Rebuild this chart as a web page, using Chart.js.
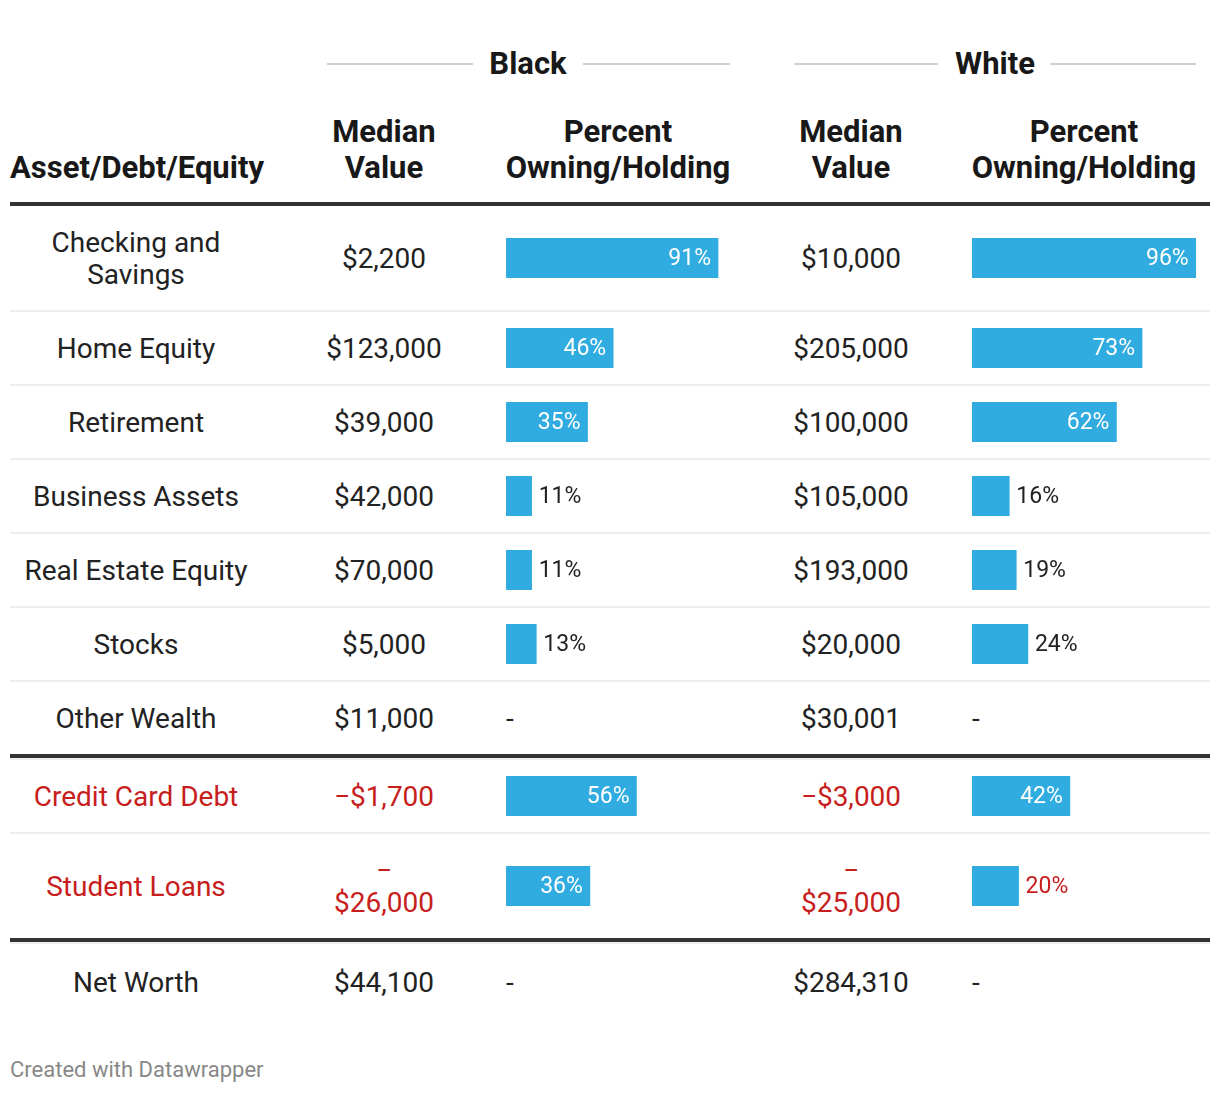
<!DOCTYPE html>
<html>
<head>
<meta charset="utf-8">
<script src="https://cdn.jsdelivr.net/npm/chart.js@4.4.1/dist/chart.umd.min.js"></script>
<style>
  body { margin: 0; background: #fff; font-family: Roboto, sans-serif; color: #222; }
  #wrap { position: relative; width: 1220px; height: 1094px; }
  .grp { position: absolute; top: 44px; height: 40px; font-weight: 700; font-size: 31px; line-height: 40px; text-align: center; color: #181818; }
  .rule { position: absolute; top: 63px; height: 2px; background: #d0d0d0; }
  .hd { position: absolute; width: 320px; font-weight: 700; font-size: 31px; line-height: 36px; text-align: center; color: #181818; }
  #table { position: absolute; left: 10px; top: 202px; width: 1200px; border-top: 4px solid #333; }
  .row { display: grid; grid-template-columns: 252px 244px 233px 224px 247px; align-items: center;
         padding: 20px 0; border-bottom: 2px solid #eee; font-size: 28px; line-height: 32px; }
  .row > div { text-align: center; position: relative; top: 1px; }
  .row > .name { padding: 0 8px; }
  .row > .pct { text-align: left; height: 32px; top: 0; }
  .row > .pct.w { padding-left: 9px; }
  .row.debt { color: #c71e1d; }
  .row.thick { border-bottom: 4px solid #333; }
  .row.top { border-top: 2px solid #eee; }
  .row.last { border-bottom: none; padding-top: 22px; }
  .dash { position: relative; top: 1px; }
  canvas { display: block; margin-top: -4px; }
  #foot { position: absolute; left: 10px; top: 1057px; font-size: 22px; color: #888; }
</style>
</head>
<body>
<div id="wrap">
  <div class="rule" style="left:327px;width:146px"></div>
  <div class="grp" style="left:428px;width:200px">Black</div>
  <div class="rule" style="left:583px;width:147px"></div>
  <div class="rule" style="left:794px;width:144px"></div>
  <div class="grp" style="left:895px;width:200px">White</div>
  <div class="rule" style="left:1050px;width:146px"></div>

  <div class="hd" style="left:10px;top:150px;text-align:left">Asset/Debt/Equity</div>
  <div class="hd" style="left:224px;top:114px">Median<br>Value</div>
  <div class="hd" style="left:458px;top:114px">Percent<br>Owning/Holding</div>
  <div class="hd" style="left:691px;top:114px">Median<br>Value</div>
  <div class="hd" style="left:924px;top:114px">Percent<br>Owning/Holding</div>

  <div id="table"></div>
  <div id="foot">Created with Datawrapper</div>
</div>
<script>
'use strict';

const categories = ['Checking and Savings', 'Home Equity', 'Retirement', 'Business Assets', 'Real Estate Equity',
  'Stocks', 'Other Wealth', 'Credit Card Debt', 'Student Loans', 'Net Worth'];
const blackMedian = [2200, 123000, 39000, 42000, 70000, 5000, 11000, -1700, -26000, 44100];
const blackPercent = [91, 46, 35, 11, 11, 13, null, 56, 36, null];
const whiteMedian = [10000, 205000, 100000, 105000, 193000, 20000, 30001, -3000, -25000, 284310];
const whitePercent = [96, 73, 62, 16, 19, 24, null, 42, 20, null];
const debtRows = ['Credit Card Debt', 'Student Loans'];

const barColor = '#31ace0';
const red = '#c71e1d';

function money(v) {
  const s = '$' + Math.abs(v).toLocaleString('en-US');
  if (v >= 0) return s;
  // long negatives wrap after the minus in the narrow column
  return Math.abs(v) >= 10000 ? '\u2212<br>' + s : '\u2212' + s;
}

// draws the percent label inside the bar (white) or just after it
const labelPlugin = {
  id: 'barLabel',
  afterDatasetsDraw(chart, args, opts) {
    const ctx = chart.ctx;
    const bar = chart.getDatasetMeta(0).data[0];
    const v = chart.data.datasets[0].data[0];
    const w = bar.x - bar.base;
    ctx.save();
    ctx.font = '23px Roboto';
    ctx.textBaseline = 'middle';
    if (w > 60) {
      ctx.fillStyle = '#fff';
      ctx.textAlign = 'right';
      ctx.fillText(v + '%', bar.x - 7, bar.y + 1);
    } else {
      ctx.fillStyle = opts.color;
      ctx.textAlign = 'left';
      ctx.fillText(v + '%', bar.x + 7, bar.y + 1);
    }
    ctx.restore();
  }
};

function barCell(cell, value, color) {
  if (value === null) {
    cell.innerHTML = '<span class="dash">-</span>';
    return;
  }
  const canvas = document.createElement('canvas');
  canvas.width = 233;
  canvas.height = 40;
  cell.appendChild(canvas);
  new Chart(canvas, {
    type: 'bar',
    data: {
      labels: [''],
      datasets: [{ data: [value], backgroundColor: barColor, barPercentage: 1, categoryPercentage: 1 }]
    },
    options: {
      indexAxis: 'y',
      responsive: false,
      animation: false,
      layout: { padding: 0 },
      scales: {
        x: { display: false, min: 0, max: 100 },
        y: { display: false }
      },
      plugins: { legend: { display: false }, tooltip: { enabled: false }, barLabel: { color: color } }
    },
    plugins: [labelPlugin]
  });
}

const table = document.getElementById('table');
for (let i = 0; i < categories.length; i++) {
  const row = document.createElement('div');
  row.className = 'row';
  const isDebt = debtRows.includes(categories[i]);
  if (isDebt) row.classList.add('debt');
  if (i === 6 || i === 8) row.classList.add('thick');
  if (i === 7 || i === 9) row.classList.add('top');
  if (i === categories.length - 1) row.classList.add('last');

  const name = document.createElement('div');
  name.className = 'name';
  name.textContent = categories[i];
  const bm = document.createElement('div');
  bm.innerHTML = money(blackMedian[i]);
  const bp = document.createElement('div');
  bp.className = 'pct';
  const wm = document.createElement('div');
  wm.innerHTML = money(whiteMedian[i]);
  const wp = document.createElement('div');
  wp.className = 'pct w';

  row.appendChild(name);
  row.appendChild(bm);
  row.appendChild(bp);
  row.appendChild(wm);
  row.appendChild(wp);
  table.appendChild(row);

  const c = isDebt ? red : '#222';
  barCell(bp, blackPercent[i], c);
  barCell(wp, whitePercent[i], c);
}
</script>
</body>
</html>
